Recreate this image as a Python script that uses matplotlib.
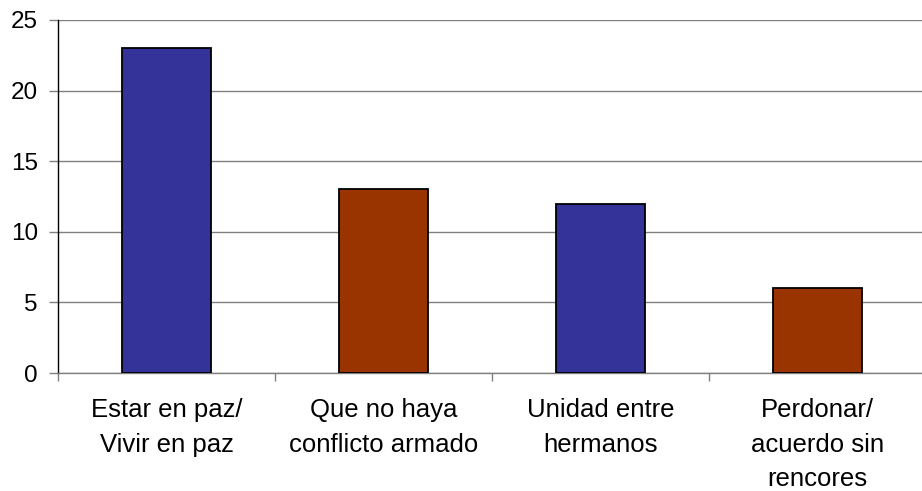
import matplotlib
matplotlib.use("Agg")
import matplotlib.pyplot as plt
import numpy as np

categories = ["Estar en paz/\nVivir en paz", "Que no haya\nconflicto armado",
              "Unidad entre\nhermanos", "Perdonar/\nacuerdo sin\nrencores"]
values = [23, 13, 12, 6]
colors = ["#333399", "#993300", "#333399", "#993300"]
yticks = [0, 5, 10, 15, 20, 25]

plt.rcParams['font.family'] = ['Liberation Sans', 'DejaVu Sans']

W, H = 922, 491
fig = plt.figure(figsize=(W/100, H/100), dpi=100)
ax = fig.add_axes([58/W, (H-373)/H, 868/W, 353/H])

x = np.arange(len(categories))
ax.bar(x, values, width=0.41, color=colors, edgecolor="black", linewidth=1.3, zorder=3)

ax.set_xlim(-0.5, len(categories)-0.5)
ax.set_ylim(0, 25)
ax.set_yticks(yticks)
ax.set_yticklabels([str(v) for v in yticks], fontsize=17.5)
ax.yaxis.grid(True, color="#808080", linewidth=1.0, zorder=0)
ax.tick_params(axis='y', length=6.5, width=1, color="#808080", pad=8, labelcolor="black")

ax.set_xticks(x)
ax.set_xticklabels(categories, fontsize=18.5, linespacing=1.56)
ax.tick_params(axis='x', length=0, pad=18)
ax.set_xticks(np.arange(len(categories)+1) - 0.5, minor=True)
ax.tick_params(axis='x', which='minor', length=6, width=1, color="#808080")

for s in ["top", "right"]:
    ax.spines[s].set_visible(False)
ax.spines["left"].set_color("black")
ax.spines["left"].set_linewidth(1.0)
ax.spines["bottom"].set_color("#808080")
ax.spines["bottom"].set_linewidth(1.0)

fig.savefig("out.png", dpi=100)
